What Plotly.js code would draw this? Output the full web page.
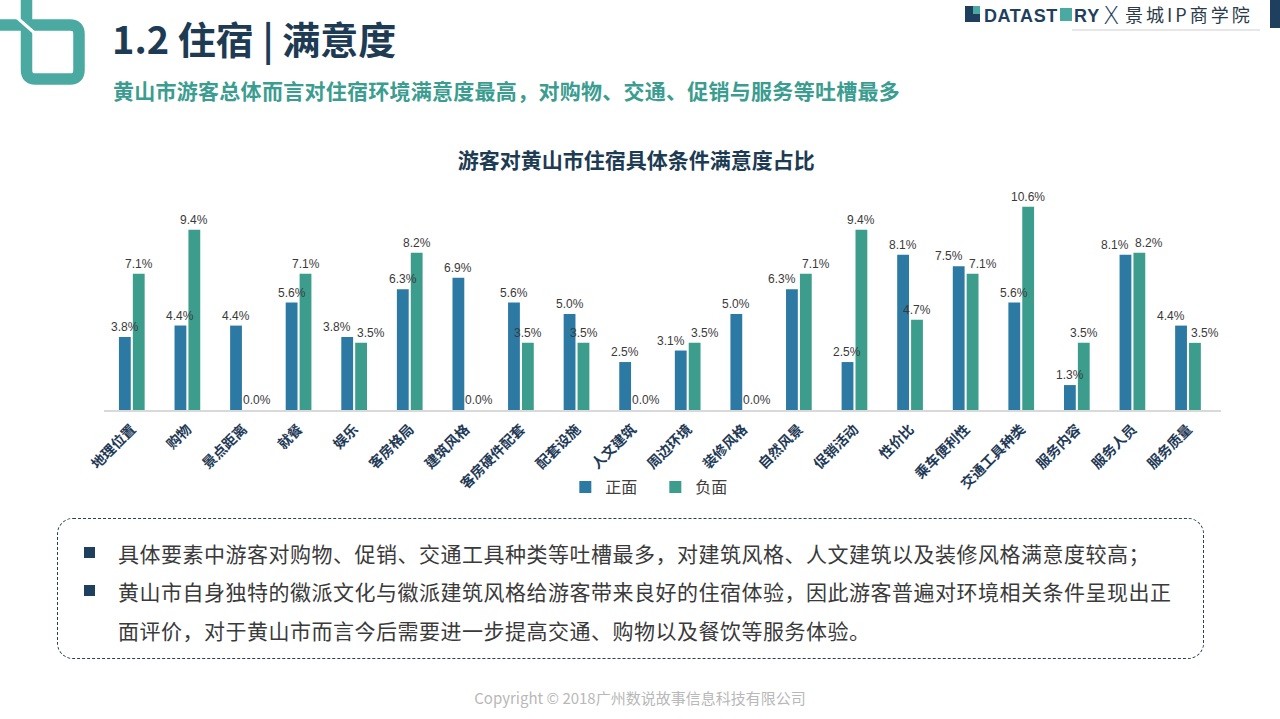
<!DOCTYPE html>
<html>
<head>
<meta charset="utf-8">
<script src="https://cdn.plot.ly/plotly-3.0.1.min.js"></script>
<style>
  html, body { margin: 0; padding: 0; background: #ffffff; }
  #page { position: relative; width: 1280px; height: 719px; overflow: hidden; background: #fff;
          font-family: "Noto Sans CJK SC", "Noto Sans", sans-serif; }
  #chart { position: absolute; left: 0; top: 0; width: 1280px; height: 719px; }
  .abs { position: absolute; white-space: nowrap; }
  #h1 { left: 112px; top: 14px; font-size: 38px; font-weight: 700; color: #1d3b53; line-height: 48px; }
  #h2 { left: 113px; top: 76px; font-size: 21px; font-weight: 700; color: #3b9c90; line-height: 28px; letter-spacing: 0.27px; }
  .line { left: 118px; font-size: 21px; color: #3a3a3a; line-height: 30px; letter-spacing: 0.5px; }
  .bullet { left: 84px; width: 11px; height: 11px; background: #1f3f5f; }
  #box { left: 57px; top: 518px; width: 1147px; height: 141px; border: 1.6px dashed #2b4150; border-radius: 16px; box-sizing: border-box; }
  #footer { left: 0; width: 1280px; top: 688px; text-align: center; font-size: 15px; color: #b8b8b8; line-height: 20px; }
</style>
</head>
<body>
<div id="page">
  <div id="chart"></div>

  <svg class="abs" style="left:0;top:0" width="100" height="100" viewBox="0 0 100 100">
    <path d="M26.5,0 L26.5,70 Q26.5,79 35.5,79 L70,79 Q79,79 79,70 L79,34 Q79,25 70,25 L0,25"
          fill="none" stroke="#4aa9a1" stroke-width="11.5" stroke-linejoin="round"/>
    <line x1="14" y1="15" x2="38" y2="36" stroke="#ffffff" stroke-width="3"/>
  </svg>

  <div id="h1" class="abs">1.2 住宿 | 满意度</div>
  <div id="h2" class="abs">黄山市游客总体而言对住宿环境满意度最高，对购物、交通、促销与服务等吐槽最多</div>

  <svg class="abs" style="left:960px;top:0" width="320" height="36" viewBox="0 0 320 36">
    <rect x="5" y="6" width="15" height="16" fill="#1f3f5f"/>
    <rect x="13" y="6" width="7" height="8" fill="#4aa9a1"/>
    <text x="24" y="22" font-family="Liberation Sans, Arial" font-weight="700" font-size="18" fill="#1f3f5f" letter-spacing="0.6">DATAST</text>
    <rect x="100" y="8" width="12" height="13" fill="#4aa9a1"/>
    <text x="114" y="22" font-family="Liberation Sans, Arial" font-weight="700" font-size="18" fill="#1f3f5f" letter-spacing="1">RY</text>
    <text x="143" y="24" font-family="DejaVu Sans, sans-serif" font-weight="300" font-size="24" fill="#1f3f5f">X</text>
    <text x="165" y="22" font-family="Noto Sans CJK SC" font-size="18" fill="#2a3a48" letter-spacing="3">景城IP商学院</text>
    <line x1="112" y1="30" x2="300" y2="30" stroke="#cfcfcf" stroke-width="1"/>
    <rect x="310" y="0" width="10" height="28" fill="#1f3f5f"/>
  </svg>

  <div id="box" class="abs"></div>
  <div class="abs bullet" style="top:547px"></div>
  <div class="abs line" style="top:538px">具体要素中游客对购物、促销、交通工具种类等吐槽最多，对建筑风格、人文建筑以及装修风格满意度较高；</div>
  <div class="abs bullet" style="top:585px"></div>
  <div class="abs line" style="top:576px">黄山市自身独特的徽派文化与徽派建筑风格给游客带来良好的住宿体验，因此游客普遍对环境相关条件呈现出正</div>
  <div class="abs line" style="top:615px">面评价，对于黄山市而言今后需要进一步提高交通、购物以及餐饮等服务体验。</div>

  <div id="footer" class="abs">Copyright © 2018广州数说故事信息科技有限公司</div>
</div>

<script>
// ---- data ----
const categories = ["地理位置","购物","景点距离","就餐","娱乐","客房格局","建筑风格","客房硬件配套","配套设施","人文建筑",
                    "周边环境","装修风格","自然风景","促销活动","性价比","乘车便利性","交通工具种类","服务内容","服务人员","服务质量"];
const positiveValues = [3.8,4.4,4.4,5.6,3.8,6.3,6.9,5.6,5.0,2.5,3.1,5.0,6.3,2.5,8.1,7.5,5.6,1.3,8.1,4.4];
const negativeValues = [7.1,9.4,0.0,7.1,3.5,8.2,0.0,3.5,3.5,0.0,3.5,0.0,7.1,9.4,4.7,7.1,10.6,3.5,8.2,3.5];
const seriesNames = ["正面","负面"];
const chartTitle = "游客对黄山市住宿具体条件满意度占比";

const blue = "#2c7aa3", green = "#3c9d8c";
const labelFont = {family: "Liberation Sans, Arial, sans-serif", size: 12, color: "#3a3a3a"};
const fmt = v => v.toFixed(1) + "%";

const traces = [
  {type: "bar", name: seriesNames[0], x: categories, y: positiveValues, marker: {color: blue}, hoverinfo: "x+y"},
  {type: "bar", name: seriesNames[1], x: categories, y: negativeValues, marker: {color: green}, hoverinfo: "x+y"}
];

// value labels: centred over each bar, spread apart when the two bars of a pair are close in height
const annotations = [];
categories.forEach((c, i) => {
  const p = positiveValues[i], n = negativeValues[i];
  const close = Math.abs(p - n) < 1.0;
  const spread = close ? 10 : 0;
  annotations.push({x: c, y: p, xref: "x", yref: "y", text: fmt(p), showarrow: false,
    xanchor: "center", yanchor: "bottom", xshift: -7 - spread, yshift: 1, font: labelFont});
  annotations.push({x: c, y: n, xref: "x", yref: "y", text: fmt(n), showarrow: false,
    xanchor: "center", yanchor: "bottom", xshift: 7 + spread + (n === 0 ? 7 : 0), yshift: 1, font: labelFont});
});

const layout = {
  width: 1280, height: 719,
  margin: {l: 104, r: 59, t: 199, b: 309},
  paper_bgcolor: "rgba(0,0,0,0)", plot_bgcolor: "rgba(0,0,0,0)",
  barmode: "group", bargap: 0.5, bargroupgap: 0.15,
  title: {text: chartTitle, x: 0.497, xanchor: "center", y: 1 - 161/719, yanchor: "middle",
          font: {family: "Noto Sans CJK SC", size: 21, color: "#1d3b53", weight: 700}},
  xaxis: {type: "category", showline: true, linecolor: "#d9d9d9", linewidth: 1.5, ticks: "",
          tickangle: -45, ticklabelstandoff: 4,
          tickfont: {family: "Noto Sans CJK SC", size: 14, color: "#1f3a56", weight: 700},
          showgrid: false, zeroline: false, fixedrange: true},
  yaxis: {visible: false, range: [0, 11], showgrid: false, zeroline: false, fixedrange: true},
  legend: {orientation: "h", x: 0.413, xanchor: "left", y: -0.365, yanchor: "middle", entrywidth: 45,
           font: {family: "Noto Sans CJK SC", size: 16, color: "#404040"}, itemwidth: 30,
           bgcolor: "rgba(0,0,0,0)"},
  showlegend: true,
  annotations: annotations
};

Plotly.newPlot("chart", traces, layout, {displayModeBar: false, staticPlot: true});
</script>
</body>
</html>
